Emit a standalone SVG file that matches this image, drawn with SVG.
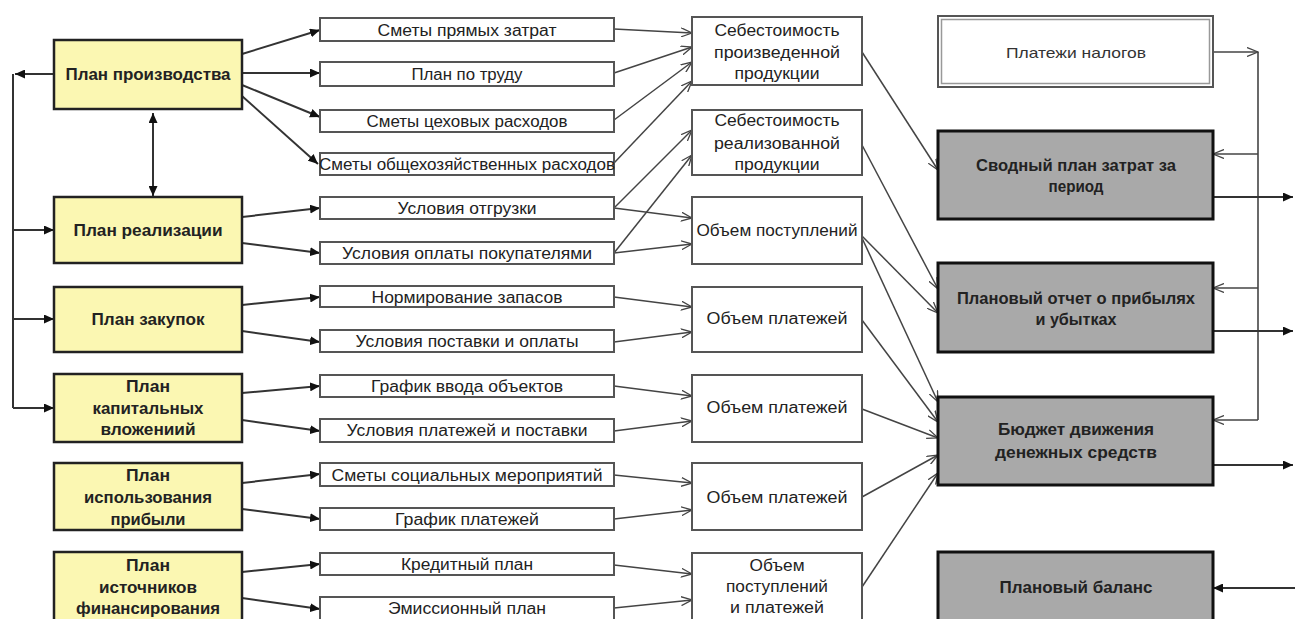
<svg xmlns="http://www.w3.org/2000/svg" width="1295" height="619" viewBox="0 0 1295 619">
<style>
text{font-family:"Liberation Sans",Arial,sans-serif;fill:#222;text-anchor:middle;dominant-baseline:central}
.b{font-weight:bold;font-size:16px}
.n{font-size:16px}
.yel{fill:#fbf7b2;stroke:#222;stroke-width:2.5}
.mid{fill:#fff;stroke:#555;stroke-width:2}
.gry{fill:#a9a9a9;stroke:#111;stroke-width:3}
.c1{stroke:#333;stroke-width:2;fill:none;marker-end:url(#fa)}
.c2{stroke:#444;stroke-width:1.5;fill:none;marker-end:url(#oa)}
.c3{stroke:#444;stroke-width:1.6;fill:none}
</style>
<defs>
<marker id="fa" markerUnits="userSpaceOnUse" markerWidth="10" markerHeight="9" refX="10" refY="4.5" orient="auto-start-reverse"><path d="M0,0 L10,4.5 L0,9 z" fill="#111"/></marker>
<marker id="oa" markerUnits="userSpaceOnUse" markerWidth="12" markerHeight="10" refX="11" refY="5" orient="auto"><path d="M0,0.5 L11,5 L0,9.5" fill="none" stroke="#444" stroke-width="1.3"/></marker>
</defs>
<rect width="1295" height="619" fill="#fff"/>

<g id="connectors">
<line class="c1" x1="54" y1="74" x2="15" y2="74"/>
<line class="c3" x1="13" y1="74" x2="13" y2="408" style="stroke:#333;stroke-width:2"/>
<line class="c1" x1="13" y1="230" x2="54" y2="230"/>
<line class="c1" x1="13" y1="319" x2="54" y2="319"/>
<line class="c1" x1="13" y1="408" x2="54" y2="408"/>
<line class="c1" x1="153" y1="113" x2="153" y2="196" style="marker-start:url(#fa)"/>
<line class="c1" x1="242" y1="54" x2="320" y2="30"/>
<line class="c1" x1="242" y1="73" x2="320" y2="73"/>
<line class="c1" x1="242" y1="85" x2="320" y2="117"/>
<line class="c1" x1="242" y1="96" x2="318" y2="164"/>
<line class="c1" x1="242" y1="217" x2="320" y2="208"/>
<line class="c1" x1="242" y1="243" x2="320" y2="253"/>
<line class="c1" x1="242" y1="305" x2="320" y2="297"/>
<line class="c1" x1="242" y1="331" x2="320" y2="342"/>
<line class="c1" x1="242" y1="393" x2="320" y2="386"/>
<line class="c1" x1="242" y1="420" x2="320" y2="431"/>
<line class="c1" x1="242" y1="483" x2="320" y2="474"/>
<line class="c1" x1="242" y1="509" x2="320" y2="519"/>
<line class="c1" x1="242" y1="572" x2="320" y2="564"/>
<line class="c1" x1="242" y1="598" x2="320" y2="609"/>
<line class="c2" x1="614" y1="29" x2="692" y2="33"/>
<line class="c2" x1="614" y1="73" x2="692" y2="47"/>
<line class="c2" x1="614" y1="120" x2="692" y2="62"/>
<line class="c2" x1="614" y1="163" x2="692" y2="81"/>
<line class="c2" x1="614" y1="208" x2="692" y2="130"/>
<line class="c2" x1="614" y1="208" x2="692" y2="218"/>
<line class="c2" x1="614" y1="253" x2="692" y2="155"/>
<line class="c2" x1="614" y1="253" x2="692" y2="244"/>
<line class="c2" x1="614" y1="297" x2="692" y2="307"/>
<line class="c2" x1="614" y1="342" x2="692" y2="332"/>
<line class="c2" x1="614" y1="386" x2="692" y2="396"/>
<line class="c2" x1="614" y1="431" x2="692" y2="421"/>
<line class="c2" x1="614" y1="475" x2="692" y2="483"/>
<line class="c2" x1="614" y1="519" x2="692" y2="510"/>
<line class="c2" x1="614" y1="565" x2="692" y2="574"/>
<line class="c2" x1="614" y1="608" x2="692" y2="600"/>
<line class="c2" x1="862" y1="52" x2="938" y2="170"/>
<line class="c2" x1="862" y1="145" x2="938" y2="289"/>
<line class="c2" x1="862" y1="236" x2="938" y2="313"/>
<line class="c2" x1="862" y1="238" x2="938" y2="402"/>
<line class="c2" x1="862" y1="320" x2="938" y2="422"/>
<line class="c2" x1="862" y1="409" x2="938" y2="438"/>
<line class="c2" x1="862" y1="497" x2="938" y2="455"/>
<line class="c2" x1="862" y1="587" x2="938" y2="473"/>
<line class="c2" x1="1213" y1="52" x2="1258" y2="52"/>
<line class="c3" x1="1258" y1="52" x2="1258" y2="420"/>
<line class="c2" x1="1258" y1="154" x2="1213" y2="154"/>
<line class="c2" x1="1258" y1="288" x2="1213" y2="288"/>
<line class="c2" x1="1258" y1="420" x2="1213" y2="420"/>
<line class="c1" x1="1213" y1="197" x2="1293" y2="197"/>
<line class="c1" x1="1213" y1="331" x2="1293" y2="331"/>
<line class="c1" x1="1213" y1="465" x2="1293" y2="465"/>
<line class="c1" x1="1295" y1="588" x2="1213" y2="588"/>
</g>

<g id="plan-proizvodstva"><rect class="yel" x="54" y="40" width="188" height="69"/><text class="b" x="148" y="74" textLength="165" lengthAdjust="spacingAndGlyphs">План производства</text></g>
<g id="plan-realizacii"><rect class="yel" x="54" y="197" width="188" height="66"/><text class="b" x="148" y="230" textLength="149" lengthAdjust="spacingAndGlyphs">План реализации</text></g>
<g id="plan-zakupok"><rect class="yel" x="54" y="287" width="188" height="65"/><text class="b" x="148" y="319" textLength="113" lengthAdjust="spacingAndGlyphs">План закупок</text></g>
<g id="plan-kap"><rect class="yel" x="54" y="374" width="188" height="68"/><text class="b" x="148" y="386" textLength="44" lengthAdjust="spacingAndGlyphs">План</text><text class="b" x="148" y="408" textLength="111" lengthAdjust="spacingAndGlyphs">капитальных</text><text class="b" x="148" y="429" textLength="95" lengthAdjust="spacingAndGlyphs">вложениий</text></g>
<g id="plan-pribyli"><rect class="yel" x="54" y="463" width="188" height="67"/><text class="b" x="148" y="475" textLength="44" lengthAdjust="spacingAndGlyphs">План</text><text class="b" x="148" y="497" textLength="128" lengthAdjust="spacingAndGlyphs">использования</text><text class="b" x="148" y="519" textLength="75" lengthAdjust="spacingAndGlyphs">прибыли</text></g>
<g id="plan-istochnikov"><rect class="yel" x="54" y="552" width="188" height="75"/><text class="b" x="148" y="565" textLength="44" lengthAdjust="spacingAndGlyphs">План</text><text class="b" x="148" y="587" textLength="98" lengthAdjust="spacingAndGlyphs">источников</text><text class="b" x="148" y="608" textLength="144" lengthAdjust="spacingAndGlyphs">финансирования</text></g>

<g id="m1"><rect class="mid" x="320" y="18" width="294" height="23"/><text class="n" x="467" y="30" textLength="179" lengthAdjust="spacingAndGlyphs">Сметы прямых затрат</text></g>
<g id="m2"><rect class="mid" x="320" y="62" width="294" height="24"/><text class="n" x="467" y="74" textLength="111" lengthAdjust="spacingAndGlyphs">План по труду</text></g>
<g id="m3"><rect class="mid" x="320" y="110" width="294" height="22"/><text class="n" x="467" y="121" textLength="201" lengthAdjust="spacingAndGlyphs">Сметы цеховых расходов</text></g>
<g id="m4"><rect class="mid" x="320" y="153" width="294" height="22"/><text class="n" x="467" y="164" textLength="296" lengthAdjust="spacingAndGlyphs">Сметы общехозяйственных расходов</text></g>
<g id="m5"><rect class="mid" x="320" y="197" width="294" height="22"/><text class="n" x="467" y="208" textLength="139" lengthAdjust="spacingAndGlyphs">Условия отгрузки</text></g>
<g id="m6"><rect class="mid" x="320" y="242" width="294" height="22"/><text class="n" x="467" y="253" textLength="250" lengthAdjust="spacingAndGlyphs">Условия оплаты покупателями</text></g>
<g id="m7"><rect class="mid" x="320" y="286" width="294" height="21"/><text class="n" x="467" y="297" textLength="191" lengthAdjust="spacingAndGlyphs">Нормирование запасов</text></g>
<g id="m8"><rect class="mid" x="320" y="330" width="294" height="22"/><text class="n" x="467" y="341" textLength="223" lengthAdjust="spacingAndGlyphs">Условия поставки и оплаты</text></g>
<g id="m9"><rect class="mid" x="320" y="375" width="294" height="22"/><text class="n" x="467" y="386" textLength="192" lengthAdjust="spacingAndGlyphs">График ввода объектов</text></g>
<g id="m10"><rect class="mid" x="320" y="419" width="294" height="23"/><text class="n" x="467" y="430" textLength="241" lengthAdjust="spacingAndGlyphs">Условия платежей и поставки</text></g>
<g id="m11"><rect class="mid" x="320" y="463" width="294" height="23"/><text class="n" x="467" y="475" textLength="271" lengthAdjust="spacingAndGlyphs">Сметы социальных мероприятий</text></g>
<g id="m12"><rect class="mid" x="320" y="508" width="294" height="22"/><text class="n" x="467" y="519" textLength="144" lengthAdjust="spacingAndGlyphs">График платежей</text></g>
<g id="m13"><rect class="mid" x="320" y="553" width="294" height="22"/><text class="n" x="467" y="564" textLength="132" lengthAdjust="spacingAndGlyphs">Кредитный план</text></g>
<g id="m14"><rect class="mid" x="320" y="597" width="294" height="24"/><text class="n" x="467" y="608" textLength="158" lengthAdjust="spacingAndGlyphs">Эмиссионный план</text></g>

<g id="t1"><rect class="mid" x="692" y="17" width="170" height="68"/><text class="n" x="777" y="30" textLength="125" lengthAdjust="spacingAndGlyphs">Себестоимость</text><text class="n" x="777" y="52" textLength="126" lengthAdjust="spacingAndGlyphs">произведенной</text><text class="n" x="777" y="73" textLength="85" lengthAdjust="spacingAndGlyphs">продукции</text></g>
<g id="t2"><rect class="mid" x="692" y="110" width="170" height="65"/><text class="n" x="777" y="120" textLength="125" lengthAdjust="spacingAndGlyphs">Себестоимость</text><text class="n" x="777" y="143" textLength="126" lengthAdjust="spacingAndGlyphs">реализованной</text><text class="n" x="777" y="164" textLength="85" lengthAdjust="spacingAndGlyphs">продукции</text></g>
<g id="t3"><rect class="mid" x="692" y="197" width="170" height="67"/><text class="n" x="777" y="230" textLength="161" lengthAdjust="spacingAndGlyphs">Объем поступлений</text></g>
<g id="t4"><rect class="mid" x="692" y="287" width="170" height="65"/><text class="n" x="777" y="318" textLength="141" lengthAdjust="spacingAndGlyphs">Объем платежей</text></g>
<g id="t5"><rect class="mid" x="692" y="375" width="170" height="67"/><text class="n" x="777" y="407" textLength="141" lengthAdjust="spacingAndGlyphs">Объем платежей</text></g>
<g id="t6"><rect class="mid" x="692" y="463" width="170" height="67"/><text class="n" x="777" y="497" textLength="141" lengthAdjust="spacingAndGlyphs">Объем платежей</text></g>
<g id="t7"><rect class="mid" x="692" y="553" width="170" height="72"/><text class="n" x="777" y="565" textLength="55" lengthAdjust="spacingAndGlyphs">Объем</text><text class="n" x="777" y="586" textLength="102" lengthAdjust="spacingAndGlyphs">поступлений</text><text class="n" x="777" y="607" textLength="94" lengthAdjust="spacingAndGlyphs">и платежей</text></g>

<g id="platezhi-nalogov"><rect x="938" y="16" width="275" height="71" fill="#fff" stroke="#555" stroke-width="2"/><rect x="941.5" y="19.5" width="268" height="64" fill="none" stroke="#999" stroke-width="1.5"/><text class="n" x="1076" y="52" textLength="140" lengthAdjust="spacingAndGlyphs" style="font-size:15px;fill:#333">Платежи налогов</text></g>
<g id="svodny-plan"><rect class="gry" x="938" y="131" width="275" height="88"/><text class="b" x="1076" y="165" textLength="200" lengthAdjust="spacingAndGlyphs">Сводный план затрат за</text><text class="b" x="1076" y="186" textLength="55" lengthAdjust="spacingAndGlyphs">период</text></g>
<g id="otchet"><rect class="gry" x="938" y="263" width="275" height="89"/><text class="b" x="1076" y="298" textLength="238" lengthAdjust="spacingAndGlyphs">Плановый отчет о прибылях</text><text class="b" x="1076" y="319" textLength="81" lengthAdjust="spacingAndGlyphs">и убытках</text></g>
<g id="bdds"><rect class="gry" x="938" y="397" width="275" height="88"/><text class="b" x="1076" y="429" textLength="156" lengthAdjust="spacingAndGlyphs">Бюджет движения</text><text class="b" x="1076" y="452" textLength="162" lengthAdjust="spacingAndGlyphs">денежных средств</text></g>
<g id="balans"><rect class="gry" x="938" y="552" width="275" height="75"/><text class="b" x="1076" y="587" textLength="153" lengthAdjust="spacingAndGlyphs">Плановый баланс</text></g>
</svg>
